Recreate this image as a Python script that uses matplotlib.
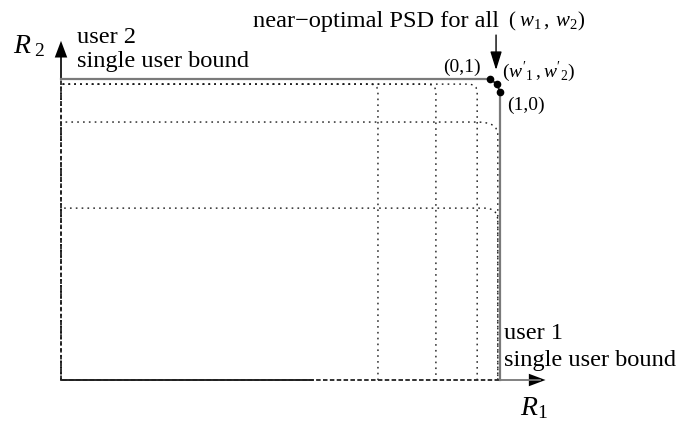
import matplotlib
matplotlib.use("Agg")
import matplotlib.pyplot as plt
from matplotlib.path import Path
from matplotlib.patches import PathPatch, FancyArrowPatch

plt.rcParams['font.family'] = ['Liberation Serif', 'DejaVu Serif']
plt.rcParams['mathtext.fontset'] = 'custom'
plt.rcParams['mathtext.rm'] = 'Liberation Serif'
plt.rcParams['mathtext.it'] = 'Liberation Serif:italic'

# ---- data (normalised rates: single-user bounds = 1) ----
region_r1_max = [0.722, 0.854, 0.948, 0.995, 0.995]
region_r2_max = [0.983, 0.983, 0.983, 0.857, 0.571]
region_round_r1 = [0.018, 0.02, 0.02, 0.045, 0.03]
region_round_r2 = [0.027, 0.027, 0.027, 0.043, 0.043]

corner_labels = ["(0,1)", r"$(w'_1\,,w'_2)$", "(1,0)"]
corner_r1 = [0.977, 0.993, 1.0]
corner_r2 = [1.0, 0.983, 0.957]

single_user_r1 = 1.0
single_user_r2 = 1.0

fig = plt.figure(figsize=(6.87, 4.24), dpi=100)
ax = fig.add_axes([61/687, 44/424, 439/687, 301/424])
ax.set_xlim(0, 1)
ax.set_ylim(0, 1)
ax.axis('off')

# dotted rate regions with rounded corners
for xr, yt, rx, ry in zip(region_r1_max, region_r2_max, region_round_r1, region_round_r2):
    verts = [(0, 0), (0, yt), (xr - rx, yt), (xr, yt), (xr, yt - ry), (xr, 0)]
    codes = [Path.MOVETO, Path.LINETO, Path.LINETO, Path.CURVE3, Path.CURVE3, Path.LINETO]
    ax.add_patch(PathPatch(Path(verts, codes), fill=False, edgecolor='#1a1a1a',
                           lw=1.0, linestyle=(0, (1.2, 3.0)), clip_on=False))

# axes (x axis partly black)
ax.plot([0, 0.574], [0, 0], color='black', lw=1.2, clip_on=False)
ax.plot([single_user_r1, 1.09], [0, 0], color='#777777', lw=1.3, clip_on=False)
ax.add_patch(FancyArrowPatch((1.07, 0), (1.11, 0), arrowstyle='-|>,head_length=0.8,head_width=0.3',
                             mutation_scale=15, color='black', lw=0, clip_on=False))
ax.plot([0, 0], [single_user_r2, 1.10], color='black', lw=1.2, clip_on=False)
ax.add_patch(FancyArrowPatch((0, 1.09), (0, 1.136), arrowstyle='-|>,head_length=0.8,head_width=0.3',
                             mutation_scale=15, color='black', lw=0, clip_on=False))

# near-optimal PSD region (dashed)
xs = [0, 0] + corner_r1 + [single_user_r1, 0]
ys = [0, single_user_r2] + corner_r2 + [0, 0]
ax.plot(xs, ys, color='#222222', lw=1.3, linestyle=(0, (2.5, 1.3)), clip_on=False)

# single user bounds (solid grey)
ax.plot([0, corner_r1[0]], [single_user_r2, single_user_r2], color='#7a7a7a', lw=1.6, clip_on=False)
ax.plot([single_user_r1, single_user_r1], [corner_r2[2], 0], color='#7a7a7a', lw=1.6, clip_on=False)

# corner points
ax.plot(corner_r1, corner_r2, 'o', color='black', ms=4.5, clip_on=False)

# annotation arrow
ax.annotate('', xy=(0.991, 1.030), xytext=(0.991, 1.146),
            arrowprops=dict(arrowstyle='-|>,head_length=0.8,head_width=0.25', color='black',
                            lw=1.0, mutation_scale=14, shrinkA=0, shrinkB=0),
            annotation_clip=False)

fs = 17.6
ax.text(-0.109, 1.085, r'$R_{\;2}$', fontsize=20, ha='left', va='baseline')
ax.text(0.036, 1.120, 'user 2', fontsize=fs, ha='left', va='baseline')
ax.text(0.036, 1.040, 'single user bound', fontsize=fs, ha='left', va='baseline')
ax.text(0.437, 1.173, 'near\u2212optimal PSD for all', fontsize=fs, ha='left', va='baseline')
ax.text(1.019, 1.173, r'$(\;w_1\,,\;w_2)$', fontsize=15, ha='left', va='baseline')
ax.text(0.870, 1.040, corner_labels[0], fontsize=14, ha='left', va='center')
ax.text(1.005, 1.023, corner_labels[1], fontsize=14, ha='left', va='center')
ax.text(1.016, 0.914, corner_labels[2], fontsize=14, ha='left', va='center')
ax.text(1.009, 0.136, 'user 1', fontsize=fs, ha='left', va='baseline')
ax.text(1.009, 0.047, 'single user bound', fontsize=fs, ha='left', va='baseline')
ax.text(1.046, -0.115, r'$R_{1}$', fontsize=20, ha='left', va='baseline')

fig.savefig('out.png', dpi=100)
